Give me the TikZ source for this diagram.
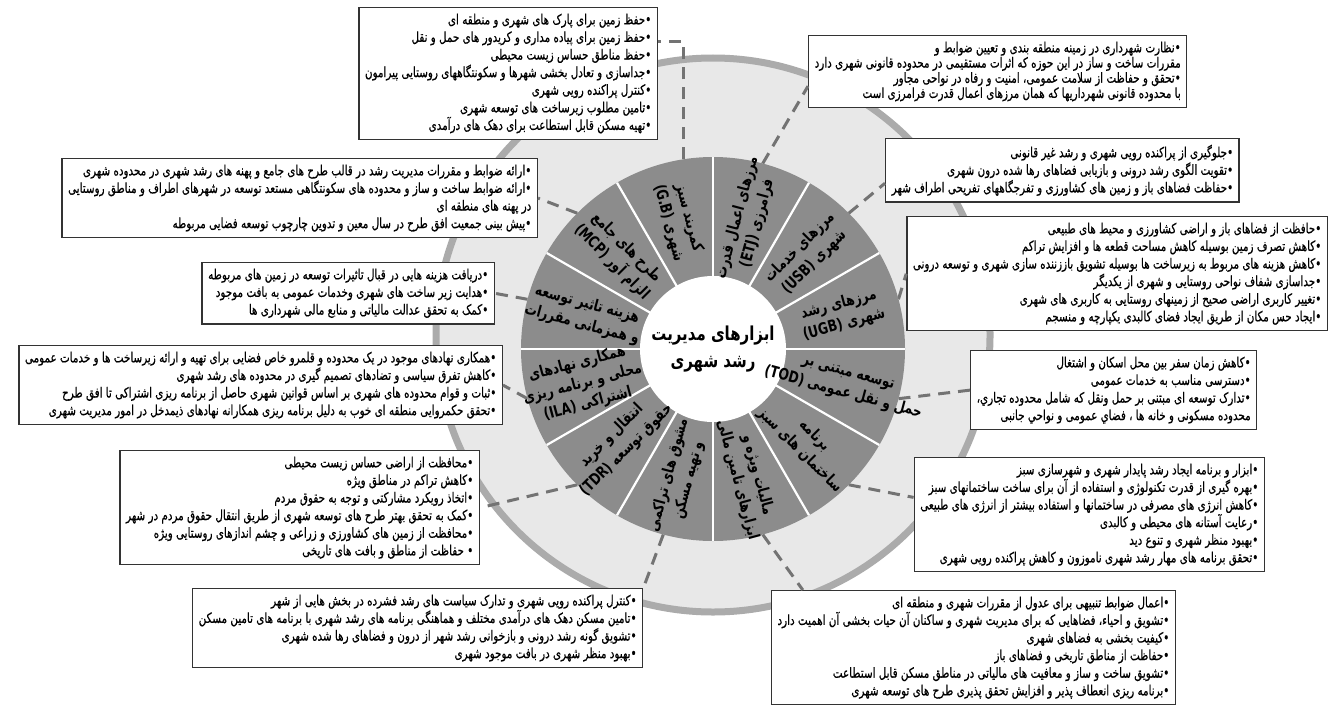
\documentclass[tikz,border=0pt]{standalone}
\usepackage{fontspec}
\newfontfamily\persian[Script=Arabic,FakeStretch=0.74,FakeBold=0.5]{DejaVu Sans}
\newfontfamily\persianbf[Script=Arabic,FakeStretch=0.78]{DejaVu Sans Bold}
\TeXXeTstate=1
\usetikzlibrary{positioning,calc}
\newcommand{\fa}[1]{\beginR#1\endR}
\newcommand{\lat}[1]{\beginL#1\endL}

\begin{document}
\begin{tikzpicture}[x=0.5pt,y=0.5pt,
    infobox/.style={draw=black!80, line width=0.7pt, fill=white, inner sep=3pt, align=right,
      font=\persian\fontsize{7}{8.8}\selectfont},
    segtext/.style={align=center, font=\persianbf\fontsize{7.9}{10.4}\selectfont},
    link/.style={draw=black!55, line width=1.5pt, dash pattern=on 6pt off 4pt},
  ]
  \useasboundingbox (0,0) rectangle (1336,-706);
  \fill[white] (0,0) rectangle (1336,-706);

  % light disk behind everything
  \draw[fill=black!9, draw=black!33, line width=3.5pt] (713,-335) circle (277);

  \coordinate (c) at (713,-349);

  % points on the rim of the wheel
  \path (c) ++(98.8:192) coordinate (pGB)
        (c) ++(75:192) coordinate (pETJ)
        (c) ++(45:192) coordinate (pUSB)
        (c) ++(15:192) coordinate (pUGB)
        (c) ++(-15:192) coordinate (pTOD)
        (c) ++(-45:192) coordinate (pGreen)
        (c) ++(-75:192) coordinate (pMal)
        (c) ++(-105:192) coordinate (pMosh)
        (c) ++(225:192) coordinate (pTDR)
        (c) ++(195:192) coordinate (pILA)
        (c) ++(165:192) coordinate (pHaz)
        (c) ++(135:192) coordinate (pMCP);

  % boxes
  \node[infobox, anchor=north east] (gbBox) at (658,-7) {%
    \fa{•حفظ زمین برای پارک های شهری و منطقه ای}\\
    \fa{•حفظ زمین برای پیاده مداری و کریدور های حمل و نقل}\\
    \fa{•حفظ مناطق حساس زیست محیطی}\\
    \fa{•جداسازی و تعادل بخشی شهرها و سکونتگاههای روستایی پیرامون}\\
    \fa{•کنترل پراکنده رویی شهری}\\
    \fa{•تامین مطلوب زیرساخت های توسعه شهری}\\
    \fa{•تهیه مسکن قابل استطاعت برای دهک های درآمدی}};

  \node[infobox, anchor=north west, font=\persian\fontsize{7}{7.6}\selectfont] (etjBox) at (808,-35) {%
    \fa{•نظارت شهرداری در زمینه منطقه بندی و تعیین ضوابط و}\\
    \fa{مقررات ساخت و ساز در این حوزه که اثرات مستقیمی در محدوده قانونی شهری دارد}\\
    \fa{•تحقق و حفاظت از سلامت عمومی، امنیت و رفاه در نواحی مجاور}\\
    \fa{با محدوده قانونی شهرداریها که همان مرزهای اعمال قدرت فرامرزی است}};

  \node[infobox, anchor=north west] (usbBox) at (885,-138) {%
    \fa{•جلوگیری از پراکنده رویی شهری و رشد غیر قانونی}\\
    \fa{•تقویت الگوی رشد درونی و بازیابی فضاهای رها شده درون شهری}\\
    \fa{•حفاظت فضاهای باز و زمین های کشاورزی و تفرجگاههای تفریحی اطراف شهر}};

  \node[infobox, anchor=north east] (ugbBox) at (1328,-216) {%
    \fa{•حافظت از فضاهای باز و اراضی کشاورزی و محیط های طبیعی}\\
    \fa{•کاهش تصرف زمین بوسیله کاهش مساحت قطعه ها و افزایش تراکم}\\
    \fa{•کاهش هزینه های مربوط به زیرساخت ها بوسیله تشویق باززننده سازی شهری و توسعه درونی}\\
    \fa{•جداسازی شفاف نواحی روستایی و شهری از یکدیگر}\\
    \fa{•تغییر کاربری اراضی صحیح از زمینهای روستایی به کاربری های شهری}\\
    \fa{•ایجاد حس مکان از طریق ایجاد فضای کالبدی یکپارچه و منسجم}};

  \node[infobox, anchor=north west] (todBox) at (970,-350) {%
    \fa{•کاهش زمان سفر بین محل اسکان و اشتغال}\\
    \fa{•دسترسی مناسب به خدمات عمومی}\\
    \fa{•تدارک توسعه ای مبتنی بر حمل ونقل که شامل محدوده تجاري،}\\
    \fa{محدوده مسکونی و خانه ها ، فضاي عمومی و نواحي جانبی}};

  \node[infobox, anchor=north east] (greenBox) at (1265,-457) {%
    \fa{•ابزار و برنامه ایجاد رشد پایدار شهری و شهرسازی سبز}\\
    \fa{•بهره گیری از قدرت تکنولوژی و استفاده از آن برای ساخت ساختمانهای سبز}\\
    \fa{•کاهش انرژی های مصرفی در ساختمانها و استفاده بیشتر از انرژی های طبیعی}\\
    \fa{•رعایت آستانه های محیطی و کالبدی}\\
    \fa{•بهبود منظر شهری و تنوع دید}\\
    \fa{•تحقق برنامه های مهار رشد شهری ناموزون و کاهش پراکنده رویی شهری}};

  \node[infobox, anchor=north east] (malBox) at (1176,-590) {%
    \fa{•اعمال ضوابط تنبیهی برای عدول از مقررات شهری و منطقه ای}\\
    \fa{•تشویق و احیاء، فضاهایی که برای مدیریت شهری و ساکنان آن حیات بخشی آن اهمیت دارد}\\
    \fa{•کیفیت بخشی به فضاهای شهری}\\
    \fa{•حفاظت از مناطق تاریخی و فضاهای باز}\\
    \fa{•تشویق ساخت و ساز و معافیت های مالیاتی در مناطق مسکن قابل استطاعت}\\
    \fa{•برنامه ریزی انعطاف پذیر و افزایش تحقق پذیری طرح های توسعه شهری}};

  \node[infobox, anchor=north west] (moshBox) at (192,-588) {%
    \fa{•کنترل پراکنده رویی شهری و تدارک سیاست های رشد فشرده در بخش هایی از شهر}\\
    \fa{•تامین مسکن دهک های درآمدی مختلف و هماهنگی برنامه های رشد شهری با برنامه های تامین مسکن}\\
    \fa{•تشویق گونه رشد درونی و بازخوانی رشد شهر از درون و فضاهای رها شده شهری}\\
    \fa{•بهبود منظر شهری در بافت موجود شهری}};

  \node[infobox, anchor=north east] (tdrBox) at (480,-450) {%
    \fa{•محافظت از اراضی حساس زیست محیطی}\\
    \fa{•کاهش تراکم در مناطق ویژه}\\
    \fa{•اتخاذ رویکرد مشارکتی و توجه به حقوق مردم}\\
    \fa{•کمک به تحقق بهتر طرح های توسعه شهری از طریق انتقال حقوق مردم در شهر}\\
    \fa{•محافظت از زمین های کشاورزی و زراعی و چشم اندازهای روستایی ویژه}\\
    \fa{• حفاظت از مناطق و بافت های تاریخی}};

  \node[infobox, anchor=north east] (ilaBox) at (503,-345) {%
    \fa{•همکاری نهادهای موجود در یک محدوده و قلمرو خاص فضایی برای تهیه و ارائه زیرساخت ها و خدمات عمومی}\\
    \fa{•کاهش تفرق سیاسی و تضادهای تصمیم گیری در محدوده های رشد شهری}\\
    \fa{•ثبات و قوام محدوده های شهری بر اساس قوانین شهری حاصل از برنامه ریزی اشتراکی تا افق طرح}\\
    \fa{•تحقق حکمروایی منطقه ای خوب به دلیل برنامه ریزی همکارانه نهادهای ذیمدخل در امور مدیریت شهری}};

  \node[infobox, anchor=north east] (hazBox) at (495,-262) {%
    \fa{•دریافت هزینه هایی در قبال تاثیرات توسعه در زمین های مربوطه}\\
    \fa{•هدایت زیر ساخت های شهری وخدمات عمومی به بافت موجود}\\
    \fa{•کمک به تحقق عدالت مالیاتی و منابع مالی شهرداری ها}};

  \node[infobox, anchor=north east] (mcpBox) at (538,-158) {%
    \fa{•ارائه ضوابط و مقررات مدیریت رشد در قالب طرح های جامع و پهنه های رشد شهری در محدوده شهری}\\
    \fa{•ارائه ضوابط ساخت و ساز و محدوده های سکونتگاهی مستعد توسعه در شهرهای اطراف و مناطق روستایی}\\
    \fa{در پهنه های منطقه ای}\\
    \fa{•پیش بینی جمعیت افق طرح در سال معین و تدوین چارچوب توسعه فضایی مربوطه}};

  % dashed links
  \coordinate (gbTurn) at (pGB |- 0,-42);
  \draw[link] (pGB) -- (gbTurn) -- (gbTurn -| gbBox.east);
  \draw[link] (pETJ) -- ($(etjBox.south west)!0.3!(etjBox.north west)$);
  \draw[link] (pUSB) -- ($(usbBox.south west)!0.3!(usbBox.north west)$);
  \draw[link] (pUGB) -- (ugbBox.west);
  \draw[link] (pTOD) -- (todBox.west);
  \draw[link] (pGreen) -- ($(greenBox.north west)!0.35!(greenBox.south west)$);
  \draw[link] (pMal) -- ($(malBox.north west)+(32,0)$);
  \draw[link] (pMosh) -- (moshBox.north east);
  \draw[link] (pTDR) -- (tdrBox.east);
  \draw[link] (pILA) -- (ilaBox.east);
  \draw[link] (pHaz) -- (hazBox.east);
  \draw[link] (pMCP) -- (mcpBox.east);

  % the wheel
  \fill[black!45] (c) circle (192);
  \foreach \a in {0,30,...,330}
    \draw[white, line width=1.1pt] (c) -- ++(\a:192);
  \fill[white] (c) circle (73);
  \node[align=center, font=\persianbf\fontsize{9.6}{13.5}\selectfont] (hub) at (c)
    {\fa{ابزارهای مدیریت}\\\fa{رشد شهری}};

  \node[segtext, rotate=75] (etj) at ($(c)+(75:133)$) {\fa{مرزهای اعمال قدرت}\\\fa{فرامرزی \lat{(ETJ)}}};
  \node[segtext, rotate=45] (usb) at ($(c)+(45:133)$) {\fa{مرزهای خدمات}\\\fa{شهری \lat{(USB)}}};
  \node[segtext, rotate=15] (ugb) at ($(c)+(15:133)$) {\fa{مرزهای رشد}\\\fa{شهری \lat{(UGB)}}};
  \node[segtext, rotate=-15] (tod) at ($(c)+(-15:137)$) {\fa{توسعه مبتنی بر}\\\fa{حمل و نقل عمومی \lat{(TOD)}}};
  \node[segtext, rotate=-45] (green) at ($(c)+(-45:133)$) {\fa{برنامه}\\\fa{ساختمان های سبز}};
  \node[segtext, rotate=-75] (mal) at ($(c)+(-75:133)$) {\fa{مالیات ویژه و}\\\fa{ابزارهای تامین مالی}};
  \node[segtext, rotate=75] (mosh) at ($(c)+(-105:133)$) {\fa{مشوق های تراکمی}\\\fa{و تهیه مسکن}};
  \node[segtext, rotate=45] (tdr) at ($(c)+(225:133)$) {\fa{انتقال و خرید}\\\fa{حقوق توسعه \lat{(TDR)}}};
  \node[segtext, rotate=15] (ila) at ($(c)+(195:135)$) {\fa{همکاری نهادهای}\\\fa{محلی و برنامه ریزی}\\\fa{اشتراکی \lat{(ILA)}}};
  \node[segtext, rotate=-15] (haz) at ($(c)+(165:133)$) {\fa{هزینه تاثیر توسعه}\\\fa{و همزمانی مقررات}};
  \node[segtext, rotate=-45] (mcp) at ($(c)+(135:133)$) {\fa{طرح های جامع}\\\fa{الزام آور \lat{(MCP)}}};
  \node[segtext, rotate=-75] (gb) at ($(c)+(105:133)$) {\fa{کمربند سبز}\\\fa{شهری \lat{(G.B)}}};
\end{tikzpicture}
\end{document}
